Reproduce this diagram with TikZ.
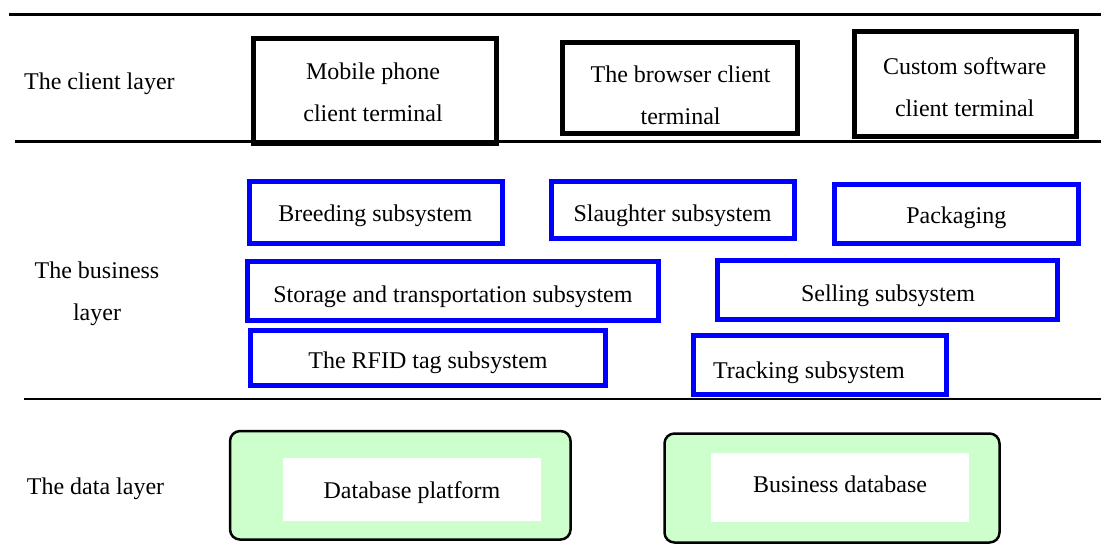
\documentclass[tikz,border=0pt]{standalone}
\usepackage{fontspec}
\setmainfont{Liberation Serif}
\begin{document}
\begin{tikzpicture}[x=1pt, y=-1pt, font=\fontsize{24}{42}\selectfont]
        \tikzstyle{layerline}=[draw=black, line width=2.5pt]
        \tikzstyle{lbl}=[inner sep=0pt, align=center]
        \tikzstyle{client}=[rectangle, draw=black, line width=5pt]
        \tikzstyle{business}=[rectangle, draw=blue, line width=5pt]
        \tikzstyle{store}=[rectangle, rounded corners=10pt, draw=black, line width=2.5pt, fill={rgb,255:red,204;green,255;blue,204}]
        \tikzstyle{inbox}=[rectangle, fill=white]

        \useasboundingbox (0,0) rectangle (1101,547);

        % Layer lines
        \coordinate (top-l) at (8.8,14.3);
        \coordinate (top-r) at (1101,14.3);
        \coordinate (mid-l) at (14.7,141.7);
        \coordinate (mid-r) at (1101,141.7);
        \coordinate (low-l) at (24,399);
        \coordinate (low-r) at (1101,399);
        \draw[layerline] (top-l) -- (top-r);
        \draw[layerline] (mid-l) -- (mid-r);
        \draw[layerline] (low-l) -- (low-r);

        % Layer names
        \node[lbl, anchor=west] (clientlayer) at (23.9,84) {The client layer};
        \node[lbl] (businesslayer) at (97,293.5) {The business\\layer};
        \node[lbl, anchor=west] (datalayer) at (26.7,489) {The data layer};

        % Client layer
        \node[client, minimum width=243.3pt, minimum height=105pt,
              label={[lbl, xshift=-2pt, yshift=-1.5pt]center:{Mobile phone\\client terminal}}] (mobile) at (375,90.8) {};
        \node[client, minimum width=234.8pt, minimum height=91pt,
              label={[lbl, xshift=0.5pt, yshift=-7pt]center:{The browser client\\terminal}}] (browser) at (680.1,87.8) {};
        \node[client, minimum width=221.5pt, minimum height=105pt,
              label={[lbl, xshift=-1pt, yshift=-3.2pt]center:{Custom software\\client terminal}}] (custom) at (965.7,84.3) {};

        % Business layer
        \node[business, minimum width=253pt, minimum height=62.3pt,
              label={[lbl, xshift=-0.7pt, yshift=-3.6pt]center:Breeding subsystem}] (breeding) at (376,212.2) {};
        \node[business, minimum width=243pt, minimum height=57.3pt,
              label={[lbl, yshift=-5.2pt]center:Slaughter subsystem}] (slaughter) at (672.5,210.3) {};
        \node[business, minimum width=243.4pt, minimum height=59.3pt,
              label={[lbl, yshift=-3.8pt]center:Packaging}] (packaging) at (956.3,213.7) {};
        \node[business, minimum width=410.8pt, minimum height=58.8pt,
              label={[lbl, yshift=-6pt]center:Storage and transportation subsystem}] (storage) at (452.9,291.1) {};
        \node[business, minimum width=340.8pt, minimum height=59.3pt,
              label={[lbl, xshift=0.6pt, yshift=-6.3pt]center:Selling subsystem}] (selling) at (887.4,289.7) {};
        \node[business, minimum width=354.6pt, minimum height=55pt,
              label={[lbl, yshift=-4.2pt]center:The RFID tag subsystem}] (rfid) at (428,358.3) {};
        \node[business, minimum width=253.5pt, minimum height=59pt,
              label={[lbl, xshift=-10.8pt, yshift=-7.2pt]center:Tracking subsystem}] (tracking) at (819.8,365.3) {};

        % Data layer
        \node[store, minimum width=340.5pt, minimum height=108.5pt] (dbplatform) at (400.3,485.3) {};
        \node[inbox, minimum width=258.3pt, minimum height=62.7pt,
              label={[lbl, yshift=-2.8pt]center:Database platform}] (dbplatformbox) at (411.9,489.7) {};
        \node[store, minimum width=335pt, minimum height=109pt] (bizdb) at (832,488) {};
        \node[inbox, minimum width=258pt, minimum height=69pt,
              label={[lbl, yshift=3pt]center:Business database}] (bizdbbox) at (840,487.5) {};

    \end{tikzpicture}
\end{document}
